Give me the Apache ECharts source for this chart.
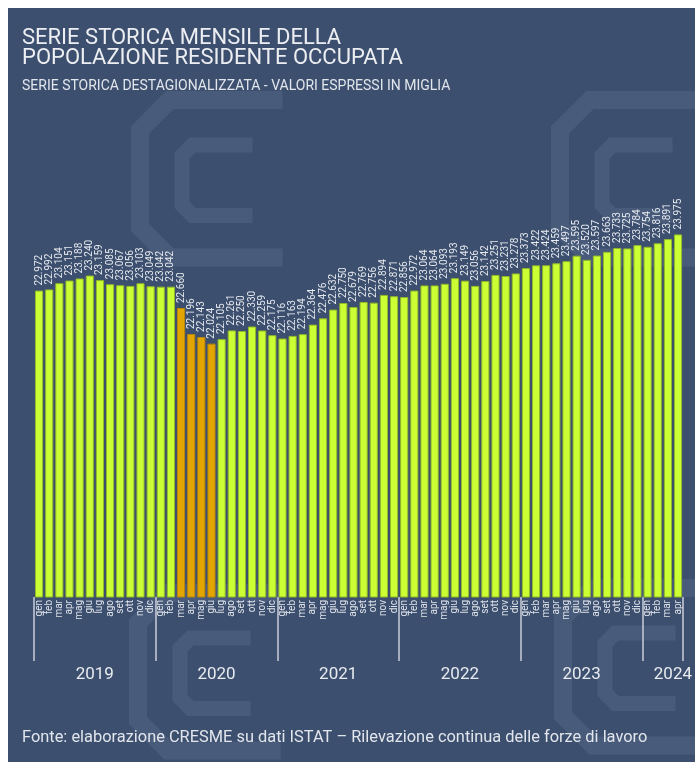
<!DOCTYPE html>
<html>
<head>
<meta charset="utf-8">
<script src="https://cdn.jsdelivr.net/npm/echarts@6/dist/echarts.min.js"></script>
<style>
  html, body { margin: 0; padding: 0; background: #ffffff; }
  #chart { position: absolute; left: 8px; top: 8px; width: 687px; height: 754px; background: #3c4f6e; }
</style>
</head>
<body>
<div id="chart"></div>
<script>
// Occupati residenti, serie mensile destagionalizzata (migliaia)
const years = ['2019', '2020', '2021', '2022', '2023', '2024'];
const monthNames = ['gen', 'feb', 'mar', 'apr', 'mag', 'giu', 'lug', 'ago', 'set', 'ott', 'nov', 'dic'];

const values2019 = [22972, 22992, 23104, 23151, 23188, 23240, 23159, 23085, 23067, 23056, 23103, 23049];
const values2020 = [23042, 23042, 22660, 22196, 22143, 22024, 22105, 22261, 22250, 22330, 22259, 22175];
const values2021 = [22116, 22163, 22194, 22364, 22476, 22632, 22750, 22679, 22769, 22756, 22894, 22871];
const values2022 = [22856, 22972, 23064, 23064, 23093, 23193, 23149, 23056, 23142, 23251, 23231, 23278];
const values2023 = [23373, 23422, 23424, 23459, 23497, 23595, 23520, 23597, 23663, 23733, 23725, 23784];
const values2024 = [23754, 23816, 23891, 23975];

// Lockdown months highlighted (2020: mar-giu)
const highlighted = ['2020-mar', '2020-apr', '2020-mag', '2020-giu'];

const yearSeries = [values2019, values2020, values2021, values2022, values2023, values2024];

const keys = [], monthLabels = [], yearOfIndex = [], allValues = [];
yearSeries.forEach((vals, yi) => {
  vals.forEach((v, mi) => {
    keys.push(years[yi] + '-' + monthNames[mi]);
    monthLabels.push(monthNames[mi]);
    yearOfIndex.push(years[yi]);
    allValues.push(v);
  });
});

const GREEN = '#ccff33', GREEN_EDGE = '#93b82a';
const ORANGE = '#e3a600', ORANGE_EDGE = '#b8860b';

const barData = allValues.map((v, i) => {
  const hot = highlighted.includes(keys[i]);
  return {
    value: v,
    itemStyle: { color: hot ? ORANGE : GREEN, borderColor: hot ? ORANGE_EDGE : GREEN_EDGE, borderWidth: 1 }
  };
});

function fmt(v) {
  return String(v).replace(/\B(?=(\d{3})+(?!\d))/g, '.');
}

// index at which each year's label is drawn; the label is nudged half a slot right
const yearLabelIndex = {};
let start = 0;
yearSeries.forEach((vals, yi) => {
  const n = vals.length;
  const idx = n === 12 ? start + n / 2 - 1 : start + Math.floor(n / 2);
  yearLabelIndex[idx] = years[yi];
  start += n;
});

const chart = echarts.init(document.getElementById('chart'), null, { renderer: 'canvas' });

const logoColor = 'rgba(120,140,170,0.2)';
function logo(x, y, s) {
  return {
    type: 'group', x: x, y: y, silent: true, z: -10,
    children: [
      { type: 'polyline', shape: { points: [[s*0.95, 0], [s*0.2, 0], [0, s*0.2], [0, s*0.85], [s*0.2, s*1.05], [s*0.95, s*1.05]] },
        style: { stroke: logoColor, lineWidth: s*0.12, fill: null, lineJoin: 'miter' } },
      { type: 'polyline', shape: { points: [[s*0.75, s*0.3], [s*0.35, s*0.3], [s*0.28, s*0.37], [s*0.28, s*0.7], [s*0.35, s*0.77], [s*0.75, s*0.77]] },
        style: { stroke: logoColor, lineWidth: s*0.1, fill: null, lineJoin: 'miter' } }
    ]
  };
}

chart.setOption({
  backgroundColor: '#3c4f6e',
  textStyle: { fontFamily: 'Roboto' },
  animation: false,
  title: [
    {
      text: 'SERIE STORICA MENSILE DELLA\nPOPOLAZIONE RESIDENTE OCCUPATA',
      left: 14, top: 20, padding: 0,
      textStyle: { color: '#eceef2', fontSize: 22, fontWeight: 'normal', lineHeight: 20, fontFamily: 'Roboto' }
    },
    {
      text: 'SERIE STORICA DESTAGIONALIZZATA - VALORI ESPRESSI IN MIGLIA',
      left: 14, top: 71, padding: 0,
      textStyle: { color: '#e2e6ec', fontSize: 14, fontWeight: 'normal', fontFamily: 'Roboto' }
    },
    {
      text: 'Fonte: elaborazione CRESME su dati ISTAT \u2013 Rilevazione continua delle forze di lavoro',
      left: 14, top: 722, padding: 0,
      textStyle: { color: '#e2e6ec', fontSize: 16.4, fontWeight: 'normal', fontFamily: 'Roboto' }
    }
  ],
  graphic: [
    logo(132, 92, 150),
    logo(552, 92, 150),
    logo(130, 585, 150),
    logo(555, 580, 150)
  ],
  grid: { left: 26, right: 10, top: 197, bottom: 165, containLabel: false },
  xAxis: [
    {
      type: 'category',
      data: monthLabels,
      boundaryGap: true,
      axisLine: { show: false },
      axisTick: { show: false },
      axisLabel: {
        interval: 0, rotate: 90, fontSize: 10, color: '#dfe3ea', margin: 3, fontFamily: 'Roboto'
      }
    },
    {
      type: 'category',
      data: yearOfIndex,
      position: 'bottom',
      boundaryGap: true,
      axisLine: { show: false },
      axisTick: {
        show: true, length: 64,
        interval: (idx) => idx % 12 === 0,
        lineStyle: { color: '#c9ced8', width: 1.5 }
      },
      axisLabel: {
        interval: (idx) => yearLabelIndex[idx] !== undefined,
        formatter: (val, idx) => yearLabelIndex[idx] || '',
        fontSize: 17, color: '#e8ebf0', margin: 69, fontFamily: 'Roboto',
        padding: [0, 0, 0, 10]
      }
    }
  ],
  yAxis: {
    type: 'value',
    min: 17500, max: 24500,
    show: false,
    splitLine: { show: false }
  },
  series: [
    {
      type: 'bar',
      xAxisIndex: 0,
      data: barData,
      barCategoryGap: '20%',
      label: {
        show: true,
        position: 'top',
        rotate: 90,
        align: 'left',
        verticalAlign: 'middle',
        distance: 5,
        fontSize: 10,
        color: '#e6e9ee',
        fontFamily: 'Roboto',
        formatter: (p) => fmt(p.value)
      }
    }
  ]
});
</script>
</body>
</html>
